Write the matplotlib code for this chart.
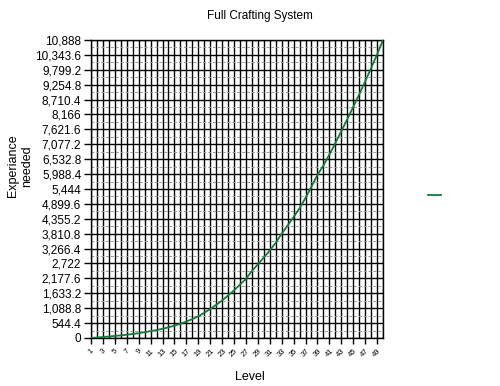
import matplotlib
matplotlib.use("Agg")
import matplotlib.pyplot as plt
from matplotlib.lines import Line2D
from matplotlib.ticker import FixedLocator, FuncFormatter

plt.rcParams['font.family'] = ['Liberation Sans', 'DejaVu Sans']

levels = list(range(1, 51))
experience = [0, 15, 35, 55, 75, 95, 120, 145, 175, 210,
              250, 290, 335, 390, 450, 520, 600, 690, 790, 920,
              1060, 1210, 1370, 1550, 1740, 1950, 2160, 2450, 2690, 2940,
              3200, 3480, 3810, 4110, 4420, 4740, 5120, 5530, 5960, 6300,
              6700, 7120, 7550, 7990, 8440, 8900, 9370, 9860, 10360, 10888]

y_max = 10888
y_step = 544.4
y_ticks = [round(i * y_step, 1) for i in range(21)]
x_tick_labels = list(range(1, 50, 2))

title = "Full Crafting System"
x_label = "Level"
y_label = "Experiance\nneeded"
line_color = "#137a3e"

fig = plt.figure(figsize=(5.0, 3.86), dpi=100)
ax = fig.add_axes([0.182, 0.1244, 0.584, 0.772])

ax.plot(levels, experience, color=line_color, lw=1.3, zorder=5)

ax.set_xlim(levels[0], levels[-1])
ax.set_ylim(0, y_max)

# grid
for lv in levels:
    ax.axvline(lv, color='black', lw=1.0, zorder=1)
for yt in y_ticks:
    ax.axhline(yt, color='black', lw=1.0, zorder=2)
for i in range(20):
    ax.axhline((i + 0.5) * y_step, color='#999999', lw=0.7, ls=(0, (3, 2)), zorder=1.5)

ax.yaxis.set_major_locator(FixedLocator(y_ticks))
def yfmt(v, pos):
    if abs(v - round(v)) < 1e-6:
        return f"{int(round(v)):,}"
    return f"{v:,.1f}"
ax.yaxis.set_major_formatter(FuncFormatter(yfmt))
ax.tick_params(axis='y', labelsize=8.5, length=5, width=1.0, direction='out', pad=2)

ax.set_xticks(x_tick_labels)
ax.set_xticklabels([str(v) for v in x_tick_labels], rotation=45, fontsize=5.5, ha='center', va='top')
ax.tick_params(axis='x', length=4, width=1.0, direction='out', pad=3)

for sp in ax.spines.values():
    sp.set_color('black')
    sp.set_linewidth(1.0)

fig.text(0.52, 0.958, title, ha='center', va='center', fontsize=8.5)
fig.text(0.5, 0.023, x_label, ha='center', va='center', fontsize=9)
fig.text(0.04, 0.57, y_label, ha='center', va='center', rotation=90, fontsize=9)

handle = Line2D([], [], color=line_color, lw=1.3)
fig.legend(handles=[handle], labels=[''], loc='center', bbox_to_anchor=(0.869, 0.492),
           frameon=False, handlelength=0.9, handletextpad=0, borderpad=0, borderaxespad=0)

fig.savefig("out.png", dpi=100)
